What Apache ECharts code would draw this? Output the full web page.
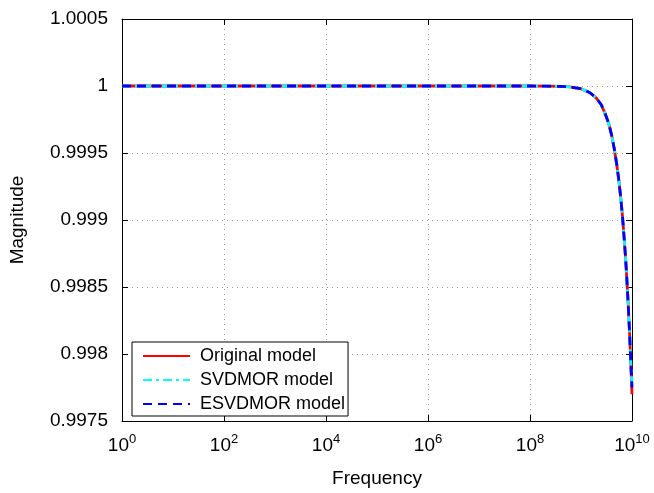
<!DOCTYPE html>
<html><head><meta charset="utf-8">
<script src="https://cdn.jsdelivr.net/npm/echarts@6/dist/echarts.min.js"></script>
<style>html,body{margin:0;padding:0;background:#fff}#c{width:654px;height:493px}</style>
</head><body><div id="c"></div>
<script>
const frequency = [1, 10, 100, 1e3, 1e4, 1e5, 1e6, 1e7, 1e8, 2e8, 4e8, 6e8, 1e9, 1.5e9, 2e9, 2.5e9, 3e9, 3.5e9, 4e9, 4.5e9, 5e9, 5.5e9, 6e9, 6.5e9, 7e9, 7.5e9, 8e9, 8.5e9, 9e9, 9.5e9, 1e10];
const originalModel = [1, 1, 1, 1, 1, 1, 1, 1, 1, 0.999999, 0.999997, 0.999993, 0.99998, 0.99995, 0.99991, 0.99986, 0.99979, 0.99972, 0.99963, 0.99953, 0.99942, 0.99930, 0.99917, 0.99903, 0.99887, 0.99871, 0.99853, 0.99834, 0.99814, 0.99792, 0.99770];
const svdmorModel = [1, 1, 1, 1, 1, 1, 1, 1, 1, 0.999999, 0.999997, 0.999993, 0.99998, 0.99995, 0.99991, 0.99986, 0.99979, 0.99972, 0.99963, 0.99953, 0.99942, 0.99930, 0.99917, 0.99903, 0.99887, 0.99871, 0.99853, 0.99834, 0.99814, 0.99792, 0.99775];
const esvdmorModel = [1, 1, 1, 1, 1, 1, 1, 1, 1, 0.999999, 0.999997, 0.999993, 0.99998, 0.99995, 0.99991, 0.99986, 0.99979, 0.99972, 0.99963, 0.99953, 0.99942, 0.99930, 0.99917, 0.99903, 0.99887, 0.99871, 0.99853, 0.99834, 0.99814, 0.99792, 0.99775];
const seriesNames = ['Original model', 'SVDMOR model', 'ESVDMOR model'];
const yTicks = [0.9975, 0.998, 0.9985, 0.999, 0.9995, 1, 1.0005];

const FONT = 'Liberation Sans, Arial, sans-serif';
const pair = arr => frequency.map((f, i) => [f, arr[i]]);
const chart = echarts.init(document.getElementById('c'), null, {renderer: 'canvas'});

const xCommon = {
  type: 'log', logBase: 100, min: 1, max: 1e10,
  axisLine: {show: true, lineStyle: {color: '#000', width: 1}},
  axisTick: {show: true, inside: true, length: 6, lineStyle: {color: '#000'}},
  minorTick: {show: false},
  splitLine: {show: false}
};
const yCommon = {
  type: 'value', min: yTicks[0], max: yTicks[yTicks.length - 1], interval: 0.0005,
  axisLine: {show: true, lineStyle: {color: '#000', width: 1}},
  axisTick: {show: true, inside: true, length: 6, lineStyle: {color: '#000'}},
  splitLine: {show: false}
};

chart.setOption({
  animation: false,
  textStyle: {fontFamily: FONT},
  grid: {left: 122, right: 22, top: 19, bottom: 69, show: false},
  legend: {
    left: 132, top: 342, orient: 'vertical',
    itemWidth: 47, itemHeight: 12, itemGap: 6,
    padding: [5, 3, 3, 10],
    borderColor: '#000', borderWidth: 1, backgroundColor: '#fff',
    itemStyle: {opacity: 0},
    textStyle: {fontFamily: FONT, fontSize: 18, color: '#000', padding: [0, 0, 0, 5]},
    data: seriesNames
  },
  xAxis: [
    Object.assign({}, xCommon, {
      position: 'bottom',
      name: 'Frequency', nameLocation: 'middle', nameGap: 48,
      nameTextStyle: {fontFamily: FONT, fontSize: 19, color: '#000'},
      splitLine: {show: true, lineStyle: {color: '#999', type: [1, 4], width: 1}},
      axisLabel: {
        show: true, margin: 12, showMaxLabel: true, showMinLabel: true,
        formatter: v => '{b|10}{s|' + Math.round(Math.log10(v)) + '}',
        rich: {
          b: {fontFamily: FONT, fontSize: 19, color: '#000'},
          s: {fontFamily: FONT, fontSize: 13, color: '#000', padding: [0, 0, 13, 0]}
        }
      }
    }),
    Object.assign({}, xCommon, {position: 'top', axisLabel: {show: false}})
  ],
  yAxis: [
    Object.assign({}, yCommon, {
      position: 'left',
      name: 'Magnitude', nameLocation: 'middle', nameGap: 95,
      nameTextStyle: {fontFamily: FONT, fontSize: 19, color: '#000'},
      splitLine: {show: true, lineStyle: {color: '#999', type: [1, 4], width: 1}},
      axisLabel: {
        margin: 14, color: '#000', fontSize: 19, fontFamily: FONT,
        formatter: v => String(parseFloat(v.toFixed(4)))
      }
    }),
    Object.assign({}, yCommon, {position: 'right', axisLabel: {show: false}})
  ],
  series: [
    {name: seriesNames[0], type: 'line', data: pair(originalModel), symbol: 'none', smooth: false,
     lineStyle: {color: '#ff0000', width: 2.8, type: 'solid'}, itemStyle: {color: '#ff0000'}},
    {name: seriesNames[1], type: 'line', data: pair(svdmorModel), symbol: 'none',
     lineStyle: {color: '#00ffff', width: 2.8, type: [9, 4, 3, 4]}, itemStyle: {color: '#00ffff'}},
    {name: seriesNames[2], type: 'line', data: pair(esvdmorModel), symbol: 'none',
     lineStyle: {color: '#0000ff', width: 2.8, type: [9, 6]}, itemStyle: {color: '#0000ff'}}
  ]
});
</script></body></html>
